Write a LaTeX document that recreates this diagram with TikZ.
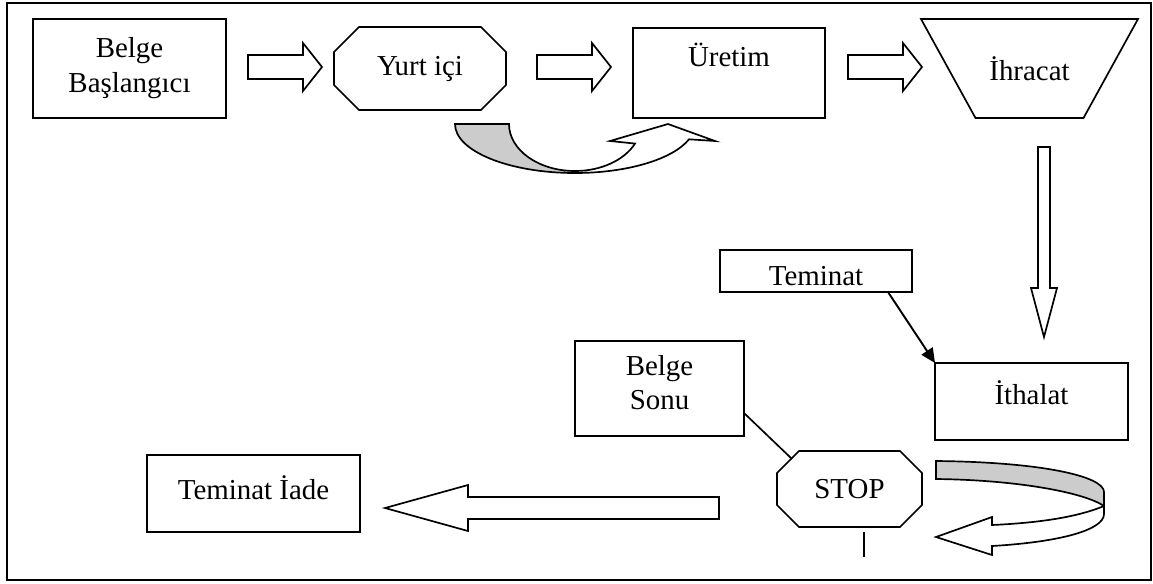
\documentclass[tikz,border=0pt]{standalone}
\usepackage{fontspec}
\setmainfont{Liberation Serif}
\usetikzlibrary{calc, arrows.meta}
\newdimen\pxu
\pxu=0.415pt
\tikzset{
  box/.style 2 args={draw, line width=0.7pt, minimum width=#1*\pxu, minimum height=#2*\pxu, inner sep=0pt, outer sep=0pt, align=center},
  plain/.style 2 args={minimum width=#1*\pxu, minimum height=#2*\pxu, inner sep=0pt, outer sep=0pt, align=center},
  outline/.style={draw, line width=0.7pt, line join=miter},
  blockarrow/.style={draw, line width=0.7pt, fill=white, line join=miter},
  ribbon/.style={draw, line width=0.7pt, fill=black!20},
}
\begin{document}
\begin{tikzpicture}[x=0.415pt, y=-0.415pt, font=\fontsize{12}{14.5}\selectfont]
\useasboundingbox (0,0) rectangle (1153,583);
\draw[line width=0.8pt] (7,3) rectangle (1151,580);

% top row
\node[box={193}{99}] (baslangic) at (129.5,68.5) {Belge\\Başlangıcı};
\node[plain={172}{83}] (yurtici) at (420,68.5) {Yurt içi};
\draw[outline] ($(yurtici.north west)+(25,0)$) -- ($(yurtici.north east)+(-25,0)$) -- ($(yurtici.north east)+(0,25)$) -- ($(yurtici.south east)+(0,-25)$) -- ($(yurtici.south east)+(-25,0)$) -- ($(yurtici.south west)+(25,0)$) -- ($(yurtici.south west)+(0,-25)$) -- ($(yurtici.north west)+(0,25)$) -- cycle;
\node[box={192}{90}] (uretim) at (729,73) {};
\node (uretimtxt) at ($(uretim.north)+(0,27)$) {Üretim};
\node[plain={217}{99}] (ihracat) at (1029.5,68.5) {İhracat};
\draw[outline] (ihracat.north west) -- (ihracat.north east) -- ($(ihracat.south east)+(-54.5,0)$) -- ($(ihracat.south west)+(54.5,0)$) -- cycle;

\foreach \xs in {248,537,848}
  \draw[blockarrow] (\xs,55) -- ++(55,0) -- ++(0,-12) -- ++(19,24) -- ++(-19,24) -- ++(0,-12) -- ++(-55,0) -- cycle;

% curved arrow under the top row
\draw[ribbon] (455,124) -- (509,124) arc[start angle=180, end angle=90, x radius=66, y radius=47] -- (575,173) arc[start angle=90, end angle=180, x radius=120, y radius=49] -- cycle;
\draw[blockarrow] (575,171) arc[start angle=90, end angle=24.6, x radius=66, y radius=47] -- (610,141) -- (668,124) -- (715,141) -- (689,139.3) arc[start angle=18.2, end angle=90, x radius=120, y radius=49] -- cycle;

% down arrow
\draw[blockarrow] (1038,147) -- (1050,147) -- (1050,288) -- (1057,288) -- (1044,337) -- (1031,288) -- (1038,288) -- cycle;

% lower part
\node[box={192}{42}, text height=12pt] (teminat) at (816,271) {Teminat};
\node[box={193}{77}, text depth=7.5pt] (ithalat) at (1031.5,401.5) {İthalat};
\node[box={169}{95}, text depth=5pt] (sonu) at (659.5,388.5) {Belge\\Sonu};
\node[plain={145}{76}] (stop) at (849.5,489) {STOP};
\draw[outline] ($(stop.north west)+(22,0)$) -- ($(stop.north east)+(-22,0)$) -- ($(stop.north east)+(0,22)$) -- ($(stop.south east)+(0,-22)$) -- ($(stop.south east)+(-22,0)$) -- ($(stop.south west)+(22,0)$) -- ($(stop.south west)+(0,-22)$) -- ($(stop.north west)+(0,22)$) -- cycle;
\node[box={213}{77}, text depth=5pt] (iade) at (253.5,493.5) {Teminat İade};

\draw[line width=0.8pt, -{Triangle[length=6pt, width=5.5pt]}] ($(teminat.south east)+(-24,0)$) -- (ithalat.north west);
\draw[line width=0.7pt] ($(sonu.east)+(0,24.5)$) -- ($(stop.north west)+(15,8)$);
\coordinate (stopleg) at ($(stop.south)+(14.5,5)$);
\draw[line width=0.7pt] (stopleg) -- ++(0,25);

% left arrow
\draw[blockarrow] (719,497) -- (468,497) -- (468,485) -- (385,508) -- (468,531) -- (468,519) -- (719,519) -- cycle;

% curved arrow beside the stop sign
\draw[ribbon] (936,461) .. controls (1040,462) and (1104,476) .. (1104,492) -- (1104,506) .. controls (1085,493) and (1020,480) .. (936,479) -- cycle;
\draw[blockarrow] (1104,506) .. controls (1075,518) and (1035,523) .. (992,525) -- (992,517) -- (936,537) -- (992,555) -- (992,546) .. controls (1060,542) and (1104,530) .. (1104,514) -- cycle;
\end{tikzpicture}
\end{document}
